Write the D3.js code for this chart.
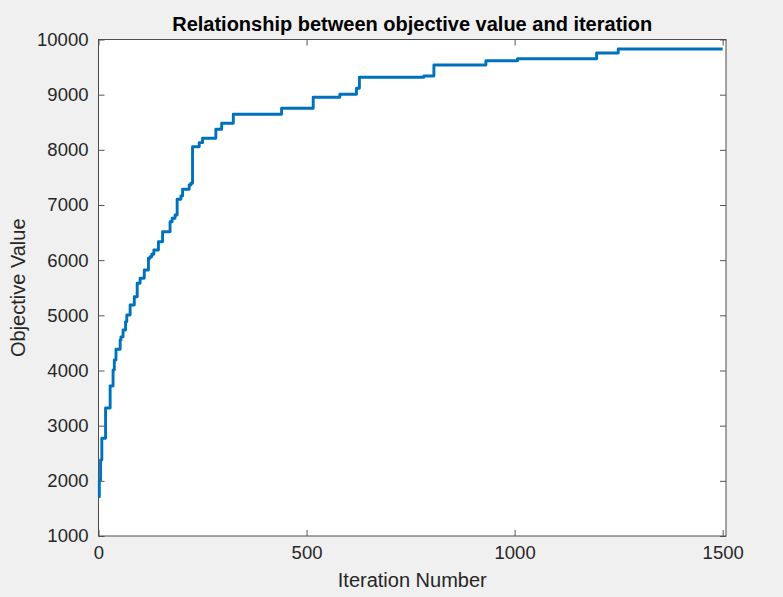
<!DOCTYPE html>
<html>
<head>
<meta charset="utf-8">
<script src="https://cdn.jsdelivr.net/npm/d3@7"></script>
<style>
  html, body { margin: 0; padding: 0; background: #f0f0f0; }
  svg { display: block; }
  text { font-family: "Liberation Sans", Arial, Helvetica, sans-serif; }
</style>
</head>
<body>
<svg id="chart" width="783" height="597"></svg>
<script>
// Best objective value found so far, recorded at the iterations where it improves
const iterations = [0, 2, 5, 8, 17, 28, 35, 38, 42, 52, 54, 59, 65, 68, 76, 86, 93, 100, 110, 120,
  124, 128, 133, 144, 154, 172, 177, 184, 189, 198, 202, 218, 222, 226, 242, 250, 282, 296, 324,
  440, 516, 580, 620, 627, 782, 806, 931, 1007, 1197, 1249, 1500];
const objective = [1712, 2015, 2378, 2771, 3320, 3720, 4009, 4190, 4384, 4553, 4610, 4734, 4885, 5006,
  5187, 5338, 5581, 5671, 5822, 6034, 6063, 6106, 6184, 6335, 6516, 6697, 6760, 6818, 7103, 7163,
  7285, 7363, 7393, 8057, 8130, 8209, 8372, 8481, 8644, 8753, 8952, 9007, 9115, 9315, 9338, 9538,
  9616, 9652, 9755, 9828, 9828];

const xTicks = [0, 500, 1000, 1500];
const yTicks = [1000, 2000, 3000, 4000, 5000, 6000, 7000, 8000, 9000, 10000];
const xDomain = [0, 1508];
const yDomain = [1000, 10000];

const titleText = "Relationship between objective value and iteration";
const xLabelText = "Iteration Number";
const yLabelText = "Objective Value";

const svg = d3.select("#chart");
const W = 783, H = 597;
const plot = { left: 98.5, right: 726, top: 39.5, bottom: 536 };

const x = d3.scaleLinear().domain(xDomain).range([plot.left, plot.right]);
const y = d3.scaleLinear().domain(yDomain).range([plot.bottom, plot.top]);

svg.append("rect").attr("width", W).attr("height", H).attr("fill", "#f0f0f0");
svg.append("rect")
  .attr("x", plot.left).attr("y", plot.top)
  .attr("width", plot.right - plot.left).attr("height", plot.bottom - plot.top)
  .attr("fill", "#ffffff");

const axisColor = "#262626";
const tickLen = 6;
const tickFont = 18.5;

function styleAxis(g, showLabels) {
  g.select(".domain").remove();
  g.selectAll(".tick line").attr("stroke", "#555").attr("stroke-width", 1);
  g.selectAll(".tick text")
    .attr("fill", axisColor)
    .style("font-size", tickFont + "px")
    .style("display", showLabels ? null : "none");
}

// Bottom / top axes (ticks point inward)
svg.append("g").attr("transform", `translate(0,${plot.bottom})`)
  .call(d3.axisBottom(x).tickValues(xTicks).tickSize(-tickLen).tickPadding(10).tickFormat(d3.format("d")))
  .call(g => styleAxis(g, true));
svg.append("g").attr("transform", `translate(0,${plot.top})`)
  .call(d3.axisTop(x).tickValues(xTicks).tickSize(-tickLen).tickFormat(""))
  .call(g => styleAxis(g, false));

// Left / right axes
svg.append("g").attr("transform", `translate(${plot.left},0)`)
  .call(d3.axisLeft(y).tickValues(yTicks).tickSize(-tickLen).tickPadding(10).tickFormat(d3.format("d")))
  .call(g => styleAxis(g, true));
svg.append("g").attr("transform", `translate(${plot.right},0)`)
  .call(d3.axisRight(y).tickValues(yTicks).tickSize(-tickLen).tickFormat(""))
  .call(g => styleAxis(g, false));

// Axes box
svg.append("rect")
  .attr("x", plot.left).attr("y", plot.top)
  .attr("width", plot.right - plot.left).attr("height", plot.bottom - plot.top)
  .attr("fill", "none").attr("stroke", "#4d4d4d").attr("stroke-width", 1);

// Step line of the objective value
const points = iterations.map((it, i) => ({ it, v: objective[i] }));
const line = d3.line()
  .x(d => x(d.it))
  .y(d => y(d.v))
  .curve(d3.curveStepAfter);

svg.append("path")
  .datum(points)
  .attr("d", line)
  .attr("fill", "none")
  .attr("stroke", "#0072bd")
  .attr("stroke-width", 2.9)
  .attr("stroke-linejoin", "round");

// Title and axis labels
const cx = (plot.left + plot.right) / 2;
svg.append("text")
  .attr("x", cx).attr("y", 31)
  .attr("text-anchor", "middle")
  .attr("fill", "#000")
  .style("font-size", "20px").style("font-weight", "bold")
  .text(titleText);

svg.append("text")
  .attr("x", cx).attr("y", 587)
  .attr("text-anchor", "middle")
  .attr("fill", axisColor)
  .style("font-size", "20px")
  .text(xLabelText);

svg.append("text")
  .attr("transform", `translate(25,${(plot.top + plot.bottom) / 2}) rotate(-90)`)
  .attr("text-anchor", "middle")
  .attr("fill", axisColor)
  .style("font-size", "20px")
  .text(yLabelText);
</script>
</body>
</html>
